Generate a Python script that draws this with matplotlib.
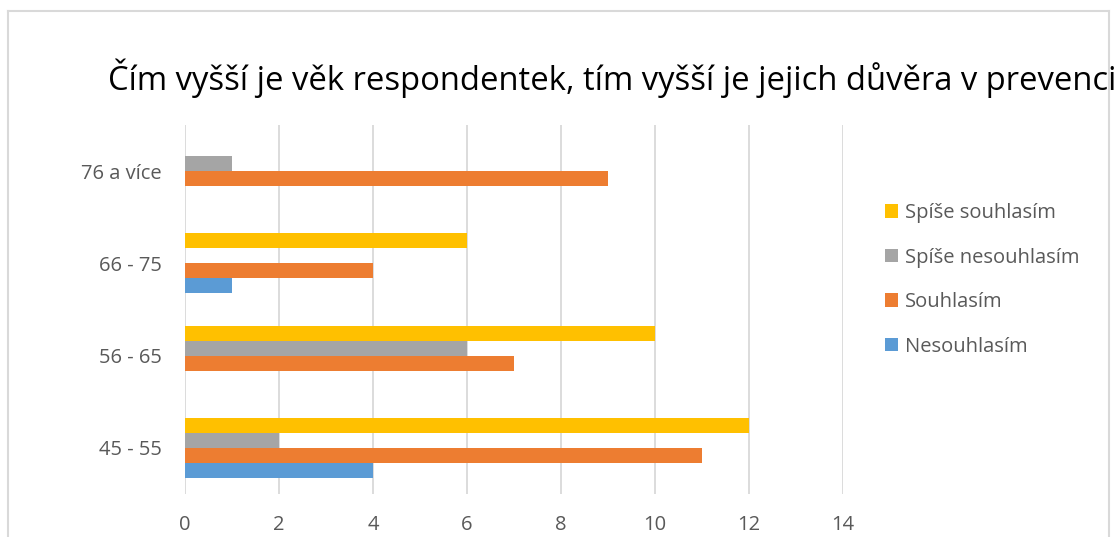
import matplotlib.pyplot as plt
from matplotlib.lines import Line2D
from matplotlib.patches import Patch

# data
categories = ["45 - 55", "56 - 65", "66 - 75", "76 a více"]
series = ["Nesouhlasím", "Souhlasím", "Spíše nesouhlasím", "Spíše souhlasím"]
nesouhlasim = [4, 0, 1, 0]
souhlasim = [11, 7, 4, 9]
spise_nesouhlasim = [2, 6, 0, 1]
spise_souhlasim = [12, 10, 6, 0]
x_ticks = [0, 2, 4, 6, 8, 10, 12, 14]

# style
COLORS = ["#5B9BD5", "#ED7D31", "#A5A5A5", "#FFC000"]
GRID = "#D9D9D9"
TXT = "#595959"
FONT = "Open Sans"

W, H = 1115, 537
fig = plt.figure(figsize=(W / 100, H / 100), dpi=100)
fig.patch.set_facecolor("white")

# plot area in pixels: x 185..843, y 125..494
ax = fig.add_axes([185 / W, 1 - 494 / H, 658 / W, 369 / H])

bar_h = 0.163
values = [nesouhlasim, souhlasim, spise_nesouhlasim, spise_souhlasim]
ypos = list(range(len(categories)))
for i, (name, vals) in enumerate(zip(series, values)):
    off = (i - 1.5) * bar_h
    ax.barh([y + off for y in ypos], vals, height=bar_h, color=COLORS[i],
            label=name, zorder=3, linewidth=0)

ax.set_xlim(0, 14)
ax.set_ylim(-0.5, len(categories) - 0.5)
ax.set_xticks(x_ticks)
ax.set_yticks(ypos)
ax.set_yticklabels(categories)
for s in ax.spines.values():
    s.set_visible(False)
ax.grid(axis="x", color=GRID, linewidth=1.3, zorder=0)
ax.tick_params(axis="both", length=0, labelcolor=TXT, labelsize=14.5)
ax.tick_params(axis="x", pad=15)
ax.tick_params(axis="y", pad=17)
for lab in ax.get_xticklabels() + ax.get_yticklabels():
    lab.set_fontfamily(FONT)

# title (cut at the right edge like the original)
fig.text(108 / W, 1 - 78 / H,
         "Čím vyšší je věk respondentek, tím vyšší je jejich důvěra v prevenci",
         ha="left", va="center", fontsize=23.6, color="black", family=FONT)

# legend
handles = [Patch(facecolor=COLORS[i], edgecolor="none", label=series[i])
           for i in range(3, -1, -1)]
fig.legend(handles=handles, loc="upper left",
           bbox_to_anchor=(867 / W, 1 - 185 / H), frameon=False,
           handlelength=0.65, handleheight=0.65, handletextpad=0.35,
           labelspacing=1.22, prop={"family": FONT, "size": 14.5},
           labelcolor=TXT)

# chart border
fig.add_artist(Line2D([8 / W, 8 / W], [0, 1 - 11 / H], color=GRID, lw=1.5))
fig.add_artist(Line2D([8 / W, 1109 / W], [1 - 11 / H, 1 - 11 / H], color=GRID, lw=1.5))
fig.add_artist(Line2D([1109 / W, 1109 / W], [0, 1 - 11 / H], color=GRID, lw=1.5))

fig.savefig("out.png", dpi=100)
